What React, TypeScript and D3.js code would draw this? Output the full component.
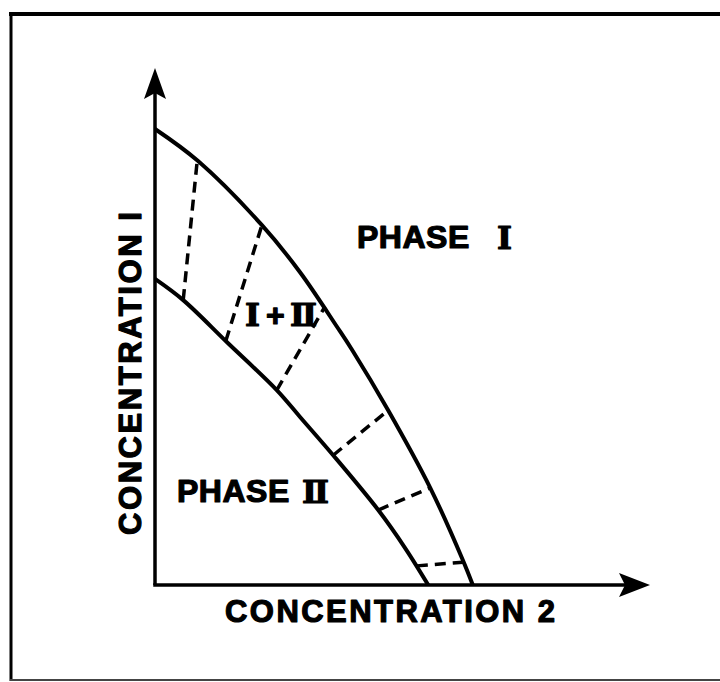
import React from "react";
import * as d3 from "d3";

// Phase-boundary curves (concentration 2, concentration 1)
const phaseIBoundary: [number, number][] = [
  [0, 8.82], [0.87, 8.2], [2.16, 6.96], [2.93, 6.05], [3.68, 4.99],
  [3.98, 4.55], [4.71, 3.38], [5.56, 1.88], [6.22, 0.48], [6.42, 0],
];
const phaseIIBoundary: [number, number][] = [
  [0, 5.92], [0.57, 5.51], [1.45, 4.7], [2.46, 3.77], [2.93, 3.25],
  [3.6, 2.51], [4.51, 1.45], [5.05, 0.72], [5.52, 0],
];
// Tie lines: [c2 on phase II side, c1, c2 on phase I side, c1]
const tieLines: [number, number, number, number][] = [
  [0.57, 5.51, 0.85, 8.18],
  [1.43, 4.72, 2.16, 6.96],
  [2.46, 3.77, 3.43, 5.38],
  [3.6, 2.51, 4.71, 3.38],
  [4.51, 1.45, 5.56, 1.88],
  [5.29, 0.37, 6.22, 0.44],
];
const xTitle = "CONCENTRATION  2";
const yTitle = "CONCENTRATION  I";
const phaseWord = "PHASE";
const numeralI = "Ⅰ";
const numeralII = "Ⅱ";

const W = 720;
const H = 682;
const x = d3.scaleLinear().domain([0, 10]).range([155, 650]);
const y = d3.scaleLinear().domain([0, 10]).range([585, 68]);

const curve = d3
  .line<[number, number]>()
  .x((d) => x(d[0]))
  .y((d) => y(d[1]))
  .curve(d3.curveCatmullRom.alpha(0.5));

const sans = "'Liberation Sans', Arial, sans-serif";
const roman = "'DejaVu Serif', 'Liberation Serif', serif";

// heavy lettering: bold glyphs with a thin outline of the same ink
const ink = { fill: "#000", stroke: "#000", strokeWidth: 1.2, strokeLinejoin: "round" as const };

export default function App() {
  const x0 = x(0);
  const y0 = y(0);
  const xTip = x(10);
  const yTip = y(10);
  const upArrow = `M${x0},${yTip} L${x0 + 11},${yTip + 31} L${x0},${yTip + 25} L${x0 - 11},${yTip + 31} Z`;
  const rightArrow = `M${xTip},${y0} L${xTip - 31},${y0 + 12} L${xTip - 25},${y0} L${xTip - 31},${y0 - 12} Z`;

  return (
    <svg
      width={W}
      height={H}
      style={{ position: "absolute", left: 0, top: 0, background: "#fff" }}
    >
      {/* outer frame */}
      <line x1={9} y1={14} x2={W} y2={14} stroke="#000" strokeWidth={4} />
      <line x1={11} y1={12} x2={11} y2={681} stroke="#000" strokeWidth={3} />
      <line x1={10} y1={680} x2={W} y2={680} stroke="#444" strokeWidth={2} />

      {/* axes */}
      <line x1={x0} y1={y0} x2={x0} y2={yTip + 20} stroke="#000" strokeWidth={3.5} />
      <line x1={x0 - 1.75} y1={y0} x2={xTip - 20} y2={y0} stroke="#000" strokeWidth={3.5} />
      <path d={upArrow} fill="#000" />
      <path d={rightArrow} fill="#000" />

      {/* binodal curves */}
      <path d={curve(phaseIBoundary) ?? ""} fill="none" stroke="#000" strokeWidth={4} />
      <path d={curve(phaseIIBoundary) ?? ""} fill="none" stroke="#000" strokeWidth={4} />

      {/* tie lines */}
      {tieLines.map((t, i) => (
        <line
          key={i}
          x1={x(t[0])}
          y1={y(t[1])}
          x2={x(t[2])}
          y2={y(t[3])}
          stroke="#000"
          strokeWidth={3.5}
          strokeDasharray="11 7"
        />
      ))}

      {/* region labels */}
      <text {...ink} fontFamily={sans} fontWeight="bold" fontSize={32} letterSpacing={0.5}>
        <tspan x={357} y={248}>{phaseWord}</tspan>
        <tspan x={497} y={249} fontFamily={roman} fontSize={32}>{numeralI}</tspan>
      </text>
      <text {...ink} fontFamily={sans} fontWeight="bold" fontSize={32} letterSpacing={0.5}>
        <tspan x={177} y={502}>{phaseWord}</tspan>
        <tspan x={302} y={503} fontFamily={roman} fontSize={32}>{numeralII}</tspan>
      </text>
      <text {...ink} y={326} fontWeight="bold" fontSize={32}>
        <tspan x={245} fontFamily={roman}>{numeralI}</tspan>
        <tspan x={266} fontFamily={sans}>+</tspan>
        <tspan x={290} fontFamily={roman}>{numeralII}</tspan>
      </text>

      {/* axis titles */}
      <text
        {...ink}
        x={225}
        y={622}
        fontFamily={sans}
        fontWeight="bold"
        fontSize={31}
        textLength={330}
        lengthAdjust="spacing"
      >
        {xTitle}
      </text>
      <text
        {...ink}
        transform="translate(141,535) rotate(-90)"
        fontFamily={sans}
        fontWeight="bold"
        fontSize={31}
        textLength={323}
        lengthAdjust="spacing"
      >
        {yTitle}
      </text>
    </svg>
  );
}
